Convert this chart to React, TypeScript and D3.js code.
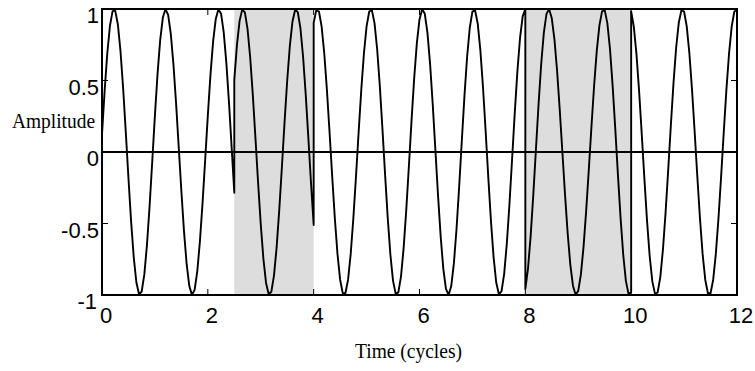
import React from "react";
import * as d3 from "d3";

// ---- data ----
const X_TICKS = [0, 2, 4, 6, 8, 10, 12];
const Y_TICKS = [-1, -0.5, 0, 0.5, 1];
const X_TICK_LABELS = ["0", "2", "4", "6", "8", "10", "12"];
const Y_TICK_LABELS = ["-1", "-0.5", "0", "0.5", "1"];

// shaded (phase-reversed) intervals
const SHADE_STARTS = [2.5, 8];
const SHADE_ENDS = [4, 10];

// waveform segments and the times of the peaks in each
const SEGMENT_STARTS = [0, 2.5, 4, 8, 10];
const SEGMENT_ENDS = [2.5, 4, 8, 10, 12];
const PEAKS_A = [-0.76, 0.227, 1.204, 2.21, 3.19];
const PEAKS_B = [1.67, 2.665, 3.667, 4.66];
const PEAKS_C = [3.08, 4.07, 5.08, 6.06, 7.03, 8.0, 8.98];
const PEAKS_D = [7.47, 8.44, 9.48, 10.46];
const PEAKS_E = [9.97, 10.97, 11.98, 12.96];
const SEGMENT_PEAKS = [PEAKS_A, PEAKS_B, PEAKS_C, PEAKS_D, PEAKS_E];
const SAMPLE_STEP = 0.05;

const W = 755;
const H = 371;
const M = { left: 102, right: 737, top: 9, bottom: 295 };

function waveAt(t: number, peaks: number[]): number {
  let k = 0;
  while (k < peaks.length - 2 && t >= peaks[k + 1]) k++;
  const p = (t - peaks[k]) / (peaks[k + 1] - peaks[k]);
  return Math.cos(2 * Math.PI * p);
}

export default function App() {
  const x = d3.scaleLinear().domain([0, 12]).range([M.left, M.right]);
  const y = d3.scaleLinear().domain([-1, 1]).range([M.bottom, M.top]);

  const pts: [number, number][] = [];
  SEGMENT_STARTS.forEach((s, i) => {
    const e = SEGMENT_ENDS[i];
    const n = Math.round((e - s) / SAMPLE_STEP);
    for (let j = 0; j <= n; j++) {
      const t = s + j * SAMPLE_STEP;
      pts.push([t, waveAt(t, SEGMENT_PEAKS[i])]);
    }
  });
  const line = d3
    .line<[number, number]>()
    .x((d) => x(d[0]))
    .y((d) => y(d[1]));

  const tickLen = 6;
  const sans = "'Liberation Sans', Arial, sans-serif";
  const serif = "'Liberation Serif', 'Times New Roman', serif";

  return (
    <svg
      width={W}
      height={H}
      style={{ position: "absolute", left: 0, top: 0, background: "#fff" }}
    >
      {SHADE_STARTS.map((s, i) => (
        <rect
          key={"sh" + i}
          x={x(s)}
          y={y(1)}
          width={x(SHADE_ENDS[i]) - x(s)}
          height={y(-1) - y(1)}
          fill="#dddddd"
        />
      ))}
      <line x1={x(0)} x2={x(12)} y1={y(0)} y2={y(0)} stroke="#000" strokeWidth={2} />
      <path d={line(pts) || ""} fill="none" stroke="#000" strokeWidth={1.9} strokeLinejoin="round" />
      {/* ticks */}
      {X_TICKS.map((t) => (
        <g key={"xt" + t}>
          <line x1={x(t)} x2={x(t)} y1={y(-1)} y2={y(-1) - tickLen} stroke="#000" strokeWidth={1} />
          <line x1={x(t)} x2={x(t)} y1={y(1)} y2={y(1) + tickLen} stroke="#000" strokeWidth={1} />
        </g>
      ))}
      {Y_TICKS.map((t) => (
        <g key={"yt" + t}>
          <line x1={x(0)} x2={x(0) + tickLen} y1={y(t)} y2={y(t)} stroke="#000" strokeWidth={1} />
          <line x1={x(12)} x2={x(12) - tickLen} y1={y(t)} y2={y(t)} stroke="#000" strokeWidth={1} />
        </g>
      ))}
      <rect
        x={x(0)}
        y={y(1)}
        width={x(12) - x(0)}
        height={y(-1) - y(1)}
        fill="none"
        stroke="#000"
        strokeWidth={2}
      />
      {/* tick labels */}
      {X_TICKS.map((t, i) => (
        <text
          key={"xl" + t}
          x={x(t) + 4}
          y={323}
          textAnchor="middle"
          fontFamily={sans}
          fontSize={22}
          fill="#000"
        >
          {X_TICK_LABELS[i]}
        </text>
      ))}
      {Y_TICKS.map((t, i) => (
        <text
          key={"yl" + t}
          x={t === -1 ? 97 : 99}
          y={y(t) + 14}
          textAnchor="end"
          fontFamily={sans}
          fontSize={22}
          fill="#000"
        >
          {Y_TICK_LABELS[i]}
        </text>
      ))}
      {/* axis titles */}
      <text
        x={12}
        y={128}
        fontFamily={serif}
        fontSize={20}
        textLength={83}
        lengthAdjust="spacingAndGlyphs"
        fill="#000"
      >
        Amplitude
      </text>
      <text
        x={355}
        y={358}
        fontFamily={serif}
        fontSize={20}
        textLength={107}
        lengthAdjust="spacingAndGlyphs"
        fill="#000"
      >
        Time (cycles)
      </text>
    </svg>
  );
}
